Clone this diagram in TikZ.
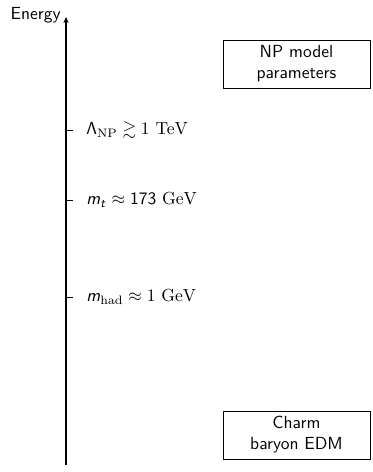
\documentclass[tikz,border=0pt]{standalone}
\usepackage{amssymb}
\usetikzlibrary{arrows.meta}
\DeclareMathAlphabet{\mathsfit}{OT1}{cmss}{m}{sl}
\begin{document}
\begin{tikzpicture}[x=0.5714pt,y=-0.5714pt,font=\sffamily,
  boxnode/.style={draw,align=center,minimum width=84pt,minimum height=27.4pt,inner sep=2pt},
  tickmark/.style={line width=0.4pt},
  lbl/.style={anchor=west,inner sep=0pt}]
\useasboundingbox (0,0) rectangle (372,472);
\coordinate (bot) at (66,465);
\coordinate (top) at (66,17);
\draw[-{Stealth[length=3.5pt,width=3pt]},line width=0.6pt] (bot) -- (top);
\node[anchor=east,inner sep=0pt] (energy) at (61,15) {Energy};
\coordinate (t1) at (66,130);
\coordinate (t2) at (66,200);
\coordinate (t3) at (66,297);
\coordinate (e1) at (73,130);
\coordinate (e2) at (73,200);
\coordinate (e3) at (73,297);
\draw[tickmark] (t1) -- (e1);
\draw[tickmark] (t2) -- (e2);
\draw[tickmark] (t3) -- (e3);
\node[lbl] (l1) at (86,130) {$\mathsf{\Lambda}_{\mathrm{NP}}\gtrsim 1~\mathrm{TeV}$};
\node[lbl] (l2) at (86,200) {$\mathsfit{m}_{\mathsfit{t}}\approx \mathsf{173}~\mathrm{GeV}$};
\node[lbl] (l3) at (86,297) {$\mathsfit{m}_{\mathrm{had}}\approx 1~\mathrm{GeV}$};
\node[boxnode] (np) at (296.5,64) {NP model\\parameters};
\node[boxnode] (edm) at (296.5,435) {Charm\\baryon EDM};
\end{tikzpicture}
\end{document}
